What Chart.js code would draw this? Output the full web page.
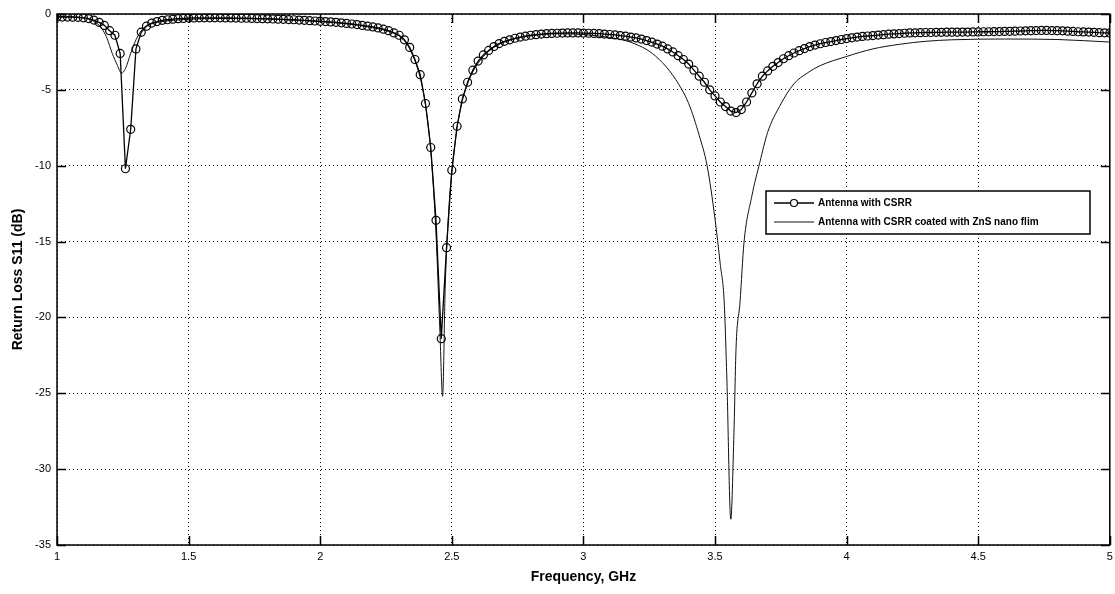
<!DOCTYPE html>
<html>
<head>
<meta charset="utf-8">
<script src="https://cdn.jsdelivr.net/npm/chart.js@4.4.1/dist/chart.umd.min.js"></script>
<style>
  html, body { margin: 0; padding: 0; background: #fff; }
  #wrap { width: 1115px; height: 594px; }
</style>
</head>
<body>
<div id="wrap"><canvas id="s11"></canvas></div>
<script>
// Data

const freqCsrr = [
  1.00, 1.02, 1.04, 1.06, 1.08, 1.10, 1.12, 1.14, 1.16, 1.18,
  1.20, 1.22, 1.24, 1.26, 1.28, 1.30, 1.32, 1.34, 1.36, 1.38,
  1.40, 1.42, 1.44, 1.46, 1.48, 1.50, 1.52, 1.54, 1.56, 1.58,
  1.60, 1.62, 1.64, 1.66, 1.68, 1.70, 1.72, 1.74, 1.76, 1.78,
  1.80, 1.82, 1.84, 1.86, 1.88, 1.90, 1.92, 1.94, 1.96, 1.98,
  2.00, 2.02, 2.04, 2.06, 2.08, 2.10, 2.12, 2.14, 2.16, 2.18,
  2.20, 2.22, 2.24, 2.26, 2.28, 2.30, 2.32, 2.34, 2.36, 2.38,
  2.40, 2.42, 2.44, 2.46, 2.48, 2.50, 2.52, 2.54, 2.56, 2.58,
  2.60, 2.62, 2.64, 2.66, 2.68, 2.70, 2.72, 2.74, 2.76, 2.78,
  2.80, 2.82, 2.84, 2.86, 2.88, 2.90, 2.92, 2.94, 2.96, 2.98,
  3.00, 3.02, 3.04, 3.06, 3.08, 3.10, 3.12, 3.14, 3.16, 3.18,
  3.20, 3.22, 3.24, 3.26, 3.28, 3.30, 3.32, 3.34, 3.36, 3.38,
  3.40, 3.42, 3.44, 3.46, 3.48, 3.50, 3.52, 3.54, 3.56, 3.58,
  3.60, 3.62, 3.64, 3.66, 3.68, 3.70, 3.72, 3.74, 3.76, 3.78,
  3.80, 3.82, 3.84, 3.86, 3.88, 3.90, 3.92, 3.94, 3.96, 3.98,
  4.00, 4.02, 4.04, 4.06, 4.08, 4.10, 4.12, 4.14, 4.16, 4.18,
  4.20, 4.22, 4.24, 4.26, 4.28, 4.30, 4.32, 4.34, 4.36, 4.38,
  4.40, 4.42, 4.44, 4.46, 4.48, 4.50, 4.52, 4.54, 4.56, 4.58,
  4.60, 4.62, 4.64, 4.66, 4.68, 4.70, 4.72, 4.74, 4.76, 4.78,
  4.80, 4.82, 4.84, 4.86, 4.88, 4.90, 4.92, 4.94, 4.96, 4.98,
  5.00
];

const s11Csrr = [
  -0.20, -0.20, -0.20, -0.21, -0.22, -0.25, -0.30, -0.40, -0.55, -0.75,
  -1.10, -1.40, -2.60, -10.2, -7.60, -2.30, -1.20, -0.80, -0.60, -0.50,
  -0.42, -0.38, -0.34, -0.31, -0.29, -0.27, -0.26, -0.25, -0.25, -0.25,
  -0.25, -0.25, -0.26, -0.26, -0.27, -0.28, -0.28, -0.29, -0.30, -0.31,
  -0.32, -0.33, -0.34, -0.35, -0.37, -0.38, -0.40, -0.42, -0.44, -0.46,
  -0.48, -0.50, -0.52, -0.55, -0.58, -0.62, -0.66, -0.70, -0.75, -0.80,
  -0.85, -0.92, -1.00, -1.10, -1.25, -1.40, -1.70, -2.20, -3.00, -4.00,
  -5.90, -8.80, -13.6, -21.4, -15.4, -10.3, -7.40, -5.60, -4.50, -3.70,
  -3.10, -2.70, -2.40, -2.15, -1.95, -1.80, -1.70, -1.60, -1.52, -1.46,
  -1.40, -1.36, -1.32, -1.30, -1.28, -1.27, -1.26, -1.25, -1.25, -1.25,
  -1.26, -1.27, -1.28, -1.30, -1.32, -1.35, -1.38, -1.42, -1.46, -1.52,
  -1.58, -1.65, -1.75, -1.85, -1.98, -2.12, -2.30, -2.50, -2.75, -3.00,
  -3.30, -3.70, -4.10, -4.50, -5.00, -5.40, -5.80, -6.10, -6.40, -6.50,
  -6.30, -5.80, -5.20, -4.60, -4.10, -3.75, -3.45, -3.20, -2.95, -2.75,
  -2.57, -2.42, -2.28, -2.15, -2.05, -1.96, -1.88, -1.82, -1.75, -1.68,
  -1.62, -1.57, -1.52, -1.48, -1.45, -1.42, -1.39, -1.36, -1.33, -1.31,
  -1.29, -1.27, -1.25, -1.24, -1.23, -1.22, -1.22, -1.21, -1.21, -1.20,
  -1.20, -1.20, -1.19, -1.19, -1.18, -1.18, -1.17, -1.17, -1.16, -1.16,
  -1.15, -1.14, -1.13, -1.12, -1.11, -1.10, -1.09, -1.08, -1.08, -1.09,
  -1.10, -1.11, -1.13, -1.15, -1.17, -1.18, -1.19, -1.21, -1.23, -1.24,
  -1.25
];

const freqZns = [
  1.00, 1.05, 1.10, 1.13, 1.15, 1.17, 1.19, 1.21, 1.23, 1.245,
  1.26, 1.28, 1.30, 1.33, 1.37, 1.42, 1.50, 1.60, 1.70, 1.80,
  1.90, 2.00, 2.10, 2.20, 2.26, 2.30, 2.34, 2.38, 2.40, 2.42,
  2.44, 2.455, 2.465, 2.475, 2.49, 2.50, 2.52, 2.54, 2.56, 2.58,
  2.62, 2.66, 2.70, 2.76, 2.82, 2.90, 3.00, 3.10, 3.16, 3.20,
  3.25, 3.30, 3.35, 3.40, 3.44, 3.47, 3.50, 3.52, 3.535, 3.545,
  3.56, 3.572, 3.58, 3.595, 3.61, 3.64, 3.67, 3.70, 3.745, 3.80,
  3.85, 3.90, 4.00, 4.10, 4.20, 4.30, 4.40, 4.60, 4.80, 5.00
];

const s11Zns = [
  -0.15, -0.18, -0.25, -0.40, -0.60, -0.95, -1.60, -2.60, -3.40, -3.90,
  -3.60, -2.60, -1.70, -0.90, -0.60, -0.45, -0.35, -0.30, -0.30, -0.33,
  -0.40, -0.50, -0.65, -0.90, -1.15, -1.45, -2.30, -4.20, -6.00, -9.00,
  -14.5, -21.0, -25.2, -18.0, -12.5, -10.5, -7.50, -5.70, -4.60, -3.80,
  -2.80, -2.20, -1.85, -1.55, -1.40, -1.30, -1.35, -1.55, -1.75, -2.00,
  -2.45, -3.20, -4.30, -5.90, -8.00, -10.0, -13.5, -16.5, -19.0, -24.0,
  -33.3, -27.6, -22.0, -19.0, -15.1, -12.0, -9.80, -7.80, -6.10, -4.60,
  -3.90, -3.40, -2.80, -2.30, -2.00, -1.80, -1.70, -1.65, -1.68, -1.85
];

const seriesLabels = ['Antenna with CSRR', 'Antenna with CSRR coated with ZnS nano flim'];

const xMin = 1, xMax = 5, xStep = 0.5;
const yMin = -35, yMax = 0, yStep = 5;

const font = '"Liberation Sans", Arial, sans-serif';

// Box round the axes and matlab style inward ticks
const axesBox = {
    id: 'axesBox',
    afterDraw: function(chart){
        let ctx = chart.ctx, a = chart.chartArea;
        let xs = chart.scales.x, ys = chart.scales.y;
        ctx.save();
        ctx.strokeStyle = '#000';
        ctx.lineWidth = 1.5;
        ctx.strokeRect(a.left, a.top, a.right - a.left, a.bottom - a.top);
        ctx.beginPath();
        xs.ticks.forEach(function(t){
            let px = Math.round(xs.getPixelForValue(t.value)) + 0.5;
            ctx.moveTo(px, a.bottom); ctx.lineTo(px, a.bottom - 9);
            ctx.moveTo(px, a.top); ctx.lineTo(px, a.top + 9);
        });
        ys.ticks.forEach(function(t){
            let py = Math.round(ys.getPixelForValue(t.value)) + 0.5;
            ctx.moveTo(a.left, py); ctx.lineTo(a.left + 9, py);
            ctx.moveTo(a.right, py); ctx.lineTo(a.right - 9, py);
        });
        ctx.stroke();
        ctx.restore();
    }
};

// Legend box inside the plot
const boxLegend = {
    id: 'boxLegend',
    afterDraw: function(chart){
        let ctx = chart.ctx;
        let bx = 766, by = 191, bw = 324, bh = 43;
        ctx.save();
        ctx.fillStyle = '#fff';
        ctx.fillRect(bx, by, bw, bh);
        ctx.strokeStyle = '#000';
        ctx.lineWidth = 1.5;
        ctx.strokeRect(bx, by, bw, bh);
        ctx.font = 'bold 10px ' + font;
        ctx.textBaseline = 'middle';
        ctx.fillStyle = '#000';
        chart.data.datasets.forEach(function(ds, i){
            let y = by + 12 + i * 19;
            ctx.strokeStyle = ds.borderColor;
            ctx.lineWidth = ds.borderWidth;
            ctx.beginPath();
            ctx.moveTo(bx + 8, y); ctx.lineTo(bx + 48, y);
            ctx.stroke();
            if(ds.pointRadius > 0){
                ctx.lineWidth = ds.pointBorderWidth;
                ctx.beginPath();
                ctx.arc(bx + 28, y, ds.pointRadius - 0.5, 0, Math.PI * 2);
                ctx.fillStyle = '#fff';
                ctx.fill();
                ctx.stroke();
                ctx.fillStyle = '#000';
            }
            ctx.fillText(ds.label, bx + 52, y);
        });
        ctx.restore();
    }
};

let ctx = document.getElementById('s11').getContext('2d');

let chart = new Chart(ctx, {
    type: 'line',
    data: {
        datasets: [{
            label: seriesLabels[0],
            data: freqCsrr.map((f, i) => ({x: f, y: s11Csrr[i]})),
            borderColor: '#000',
            borderWidth: 1.3,
            pointRadius: 4,
            pointStyle: 'circle',
            pointBorderWidth: 1.2,
            pointBorderColor: '#000',
            pointBackgroundColor: 'rgba(255,255,255,0)',
            tension: 0
        }, {
            label: seriesLabels[1],
            data: freqZns.map((f, i) => ({x: f, y: s11Zns[i]})),
            borderColor: '#111',
            borderWidth: 1,
            pointRadius: 0,
            cubicInterpolationMode: 'monotone'
        }]
    },
    options: {
        responsive: true,
        maintainAspectRatio: false,
        animation: false,
        layout: { padding: { top: 14, right: 4, left: 0, bottom: 0 } },
        plugins: {
            legend: { display: false },
            tooltip: { enabled: false }
        },
        scales: {
            x: {
                type: 'linear',
                min: xMin, max: xMax,
                ticks: { stepSize: xStep, padding: 5, color: '#000', font: { family: font, size: 11 },
                         callback: v => String(v) },
                grid: { color: '#000', lineWidth: 1, drawTicks: false },
                border: { display: false, dash: [1, 3] },
                title: { display: true, text: 'Frequency, GHz', color: '#000',
                         font: { family: font, size: 14, weight: 'bold' }, padding: { top: 0, bottom: 8 } },
                afterFit: function(scale){
                    scale.height = 49;
                    scale.paddingRight = 0;
                    scale.paddingLeft = 0;
                }
            },
            y: {
                min: yMin, max: yMax,
                ticks: { stepSize: yStep, padding: 6, color: '#000', font: { family: font, size: 11 } },
                grid: { color: '#000', lineWidth: 1, drawTicks: false },
                border: { display: false, dash: [1, 3] },
                title: { display: true, text: 'Return Loss S11 (dB)', color: '#000',
                         font: { family: font, size: 14, weight: 'bold' }, padding: { top: 10, bottom: 0 } },
                afterFit: function(scale){
                    scale.width = 57;
                    scale.paddingTop = 0;
                    scale.paddingBottom = 0;
                }
            }
        }
    },
    plugins: [axesBox, boxLegend]
});
</script>
</body>
</html>
